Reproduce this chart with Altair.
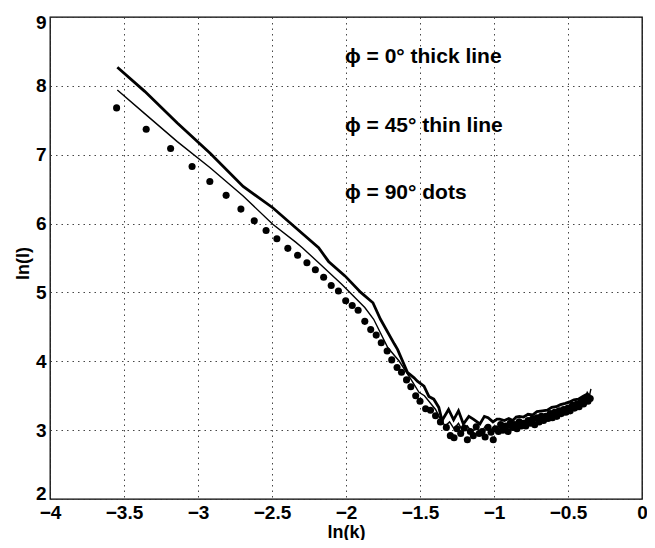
import altair as alt
import pandas as pd

# phi = 0 deg (thick line)
thick_x = [-3.545, -3.36, -3.14, -2.918, -2.695, -2.495, -2.34, -2.185, -2.118, -2.007,
           -1.90, -1.818, -1.767, -1.673, -1.651, -1.585, -1.54, -1.518, -1.473, -1.44,
           -1.407, -1.373, -1.351, -1.307, -1.273, -1.24, -1.207, -1.17, -1.14, -1.095,
           -1.065, -1.04, -1.007, -0.98, -0.962, -0.93, -0.90, -0.873, -0.85, -0.829,
           -0.80, -0.77, -0.74, -0.71, -0.673, -0.64, -0.61, -0.58, -0.55, -0.518,
           -0.49, -0.46, -0.43, -0.40, -0.373, -0.35]
thick_y = [8.27, 7.92, 7.46, 7.02, 6.54, 6.23, 5.94, 5.65, 5.45, 5.24,
           5.00, 4.85, 4.61, 4.25, 4.17, 3.84, 3.76, 3.71, 3.64, 3.49,
           3.45, 3.33, 3.14, 3.30, 3.15, 3.28, 3.09, 3.20, 3.16, 3.09,
           3.20, 3.18, 3.12, 3.16, 3.16, 3.14, 3.17, 3.14, 3.19, 3.20,
           3.19, 3.23, 3.22, 3.27, 3.28, 3.29, 3.33, 3.34, 3.37, 3.39,
           3.41, 3.44, 3.45, 3.49, 3.52, 3.50]

# phi = 45 deg (thin line)
thin_x = [-3.545, -3.362, -3.14, -2.918, -2.695, -2.495, -2.34, -2.295, -2.185, -2.029,
          -1.873, -1.813, -1.718, -1.64, -1.562, -1.507, -1.47, -1.44, -1.395, -1.362,
          -1.33, -1.30, -1.27, -1.24, -1.21, -1.18, -1.15, -1.12, -1.09, -1.06,
          -1.03, -1.00, -0.97, -0.94, -0.91, -0.88, -0.85, -0.82, -0.79, -0.76,
          -0.73, -0.70, -0.67, -0.64, -0.61, -0.58, -0.55, -0.52, -0.49, -0.46,
          -0.43, -0.41, -0.39, -0.37, -0.355, -0.345]
thin_y = [7.94, 7.60, 7.19, 6.81, 6.40, 5.99, 5.73, 5.65, 5.43, 5.12,
          4.78, 4.61, 4.20, 4.00, 3.74, 3.55, 3.50, 3.42, 3.30, 3.16,
          3.06, 3.12, 3.02, 3.10, 2.98, 3.06, 2.97, 3.04, 2.96, 3.05,
          2.98, 3.05, 3.02, 3.08, 3.05, 3.10, 3.07, 3.13, 3.10, 3.16,
          3.14, 3.20, 3.18, 3.24, 3.22, 3.29, 3.27, 3.34, 3.32, 3.40,
          3.38, 3.47, 3.42, 3.55, 3.50, 3.60]

# phi = 90 deg (dots)
dots_x = [-3.55, -3.35, -3.185, -3.04, -2.92, -2.81, -2.71, -2.62, -2.54, -2.467,
          -2.393, -2.327, -2.264, -2.207, -2.151, -2.10, -2.051, -2.002, -1.958, -1.918,
          -1.873, -1.833, -1.796, -1.762, -1.722, -1.691, -1.655, -1.625, -1.591, -1.562,
          -1.529, -1.50, -1.462, -1.429, -1.395, -1.362, -1.322,
          -1.295, -1.27, -1.25, -1.225, -1.20, -1.18, -1.16, -1.14, -1.12, -1.10,
          -1.08, -1.06, -1.04, -1.02, -1.005, -0.99, -0.97, -0.955, -0.94, -0.92,
          -0.905, -0.89, -0.875, -0.86, -0.845, -0.83, -0.815, -0.80, -0.785, -0.77,
          -0.755, -0.74, -0.725, -0.71, -0.695, -0.68, -0.665, -0.65, -0.635, -0.62,
          -0.605, -0.59, -0.575, -0.56, -0.545, -0.53, -0.515, -0.50, -0.485, -0.47,
          -0.455, -0.44, -0.425, -0.41, -0.395, -0.38, -0.365, -0.35]
dots_y = [7.68, 7.37, 7.09, 6.83, 6.61, 6.41, 6.21, 6.04, 5.90, 5.78,
          5.64, 5.54, 5.43, 5.33, 5.22, 5.10, 5.02, 4.88, 4.81, 4.74,
          4.58, 4.46, 4.38, 4.27, 4.15, 4.02, 3.91, 3.84, 3.73, 3.63,
          3.50, 3.42, 3.31, 3.29, 3.21, 3.12, 3.04,
          2.92, 2.89, 3.02, 2.95, 3.03, 2.86, 2.98, 2.92, 3.05, 2.95,
          2.98, 2.90, 3.04, 2.97, 2.86, 3.02, 2.98, 3.08, 3.00, 3.06,
          2.98, 3.10, 3.04, 3.08, 3.02, 3.12, 3.06, 3.10, 3.06, 3.14,
          3.10, 3.16, 3.08, 3.18, 3.12, 3.20, 3.14, 3.20, 3.17, 3.24,
          3.18, 3.26, 3.20, 3.28, 3.24, 3.30, 3.26, 3.32, 3.28, 3.36,
          3.32, 3.38, 3.34, 3.42, 3.38, 3.45, 3.42, 3.46]

ann_x = [-2.007, -2.007, -2.007]
ann_y = [8.33, 7.33, 6.35]
ann_text = ["\u03d5 =  0\u00b0 thick line", "\u03d5 = 45\u00b0 thin line", "\u03d5 = 90\u00b0 dots"]

x_ticks = [-4, -3.5, -3, -2.5, -2, -1.5, -1, -0.5, 0]
y_ticks = [2, 3, 4, 5, 6, 7, 8, 9]

FONT = "Liberation Sans"

thick_df = pd.DataFrame({"x": thick_x, "y": thick_y})
thin_df = pd.DataFrame({"x": thin_x, "y": thin_y})
dots_df = pd.DataFrame({"x": dots_x, "y": dots_y})
ann_df = pd.DataFrame({"x": ann_x, "y": ann_y, "t": ann_text})

xs = alt.Scale(domain=[-4, 0], nice=False, zero=False)
ys = alt.Scale(domain=[2, 9], nice=False, zero=False)

xenc = alt.X("x:Q", scale=xs, title="ln(k)",
             axis=alt.Axis(values=x_ticks, format="~g", labelFlush=False,
                           titleY=38, titleBaseline="alphabetic"))
yenc = alt.Y("y:Q", scale=ys, title="ln(I)",
             axis=alt.Axis(values=y_ticks, format="~g", labelFlush=True, labelFlushOffset=4,
                           titleX=-27, titleY=246, titleBaseline="middle"))

thick = alt.Chart(thick_df).mark_line(color="black", strokeWidth=2.8).encode(x=xenc, y=yenc)
thin = alt.Chart(thin_df).mark_line(color="black", strokeWidth=1.4).encode(x=xenc, y=yenc)
dots = alt.Chart(dots_df).mark_circle(color="black", size=50, opacity=1).encode(x=xenc, y=yenc)
text = alt.Chart(ann_df).mark_text(
    align="left", baseline="alphabetic", font=FONT, fontSize=21, fontWeight="bold", color="black"
).encode(x=alt.X("x:Q", scale=xs), y=alt.Y("y:Q", scale=ys), text="t:N")

chart = alt.layer(thick, thin, dots, text).properties(
    width=592, height=482,
    autosize=alt.AutoSizeParams(type="none"),
    padding={"left": 42, "top": 9, "right": 5, "bottom": 41},
    background="white",
).configure_view(
    stroke="black", strokeWidth=1.3
).configure_axis(
    domain=False,
    ticks=False,
    grid=True,
    gridColor="#333333",
    gridDash=[1.5, 4],
    gridWidth=1,
    gridOpacity=0.9,
    labelFont=FONT,
    labelFontSize=19,
    labelFontWeight="bold",
    labelColor="black",
    labelPadding=4,
    titleFont=FONT,
    titleFontSize=18,
    titleFontWeight="bold",
    titleColor="black",
)

chart.save("out.html", embed_options={"renderer": "svg", "actions": False})
